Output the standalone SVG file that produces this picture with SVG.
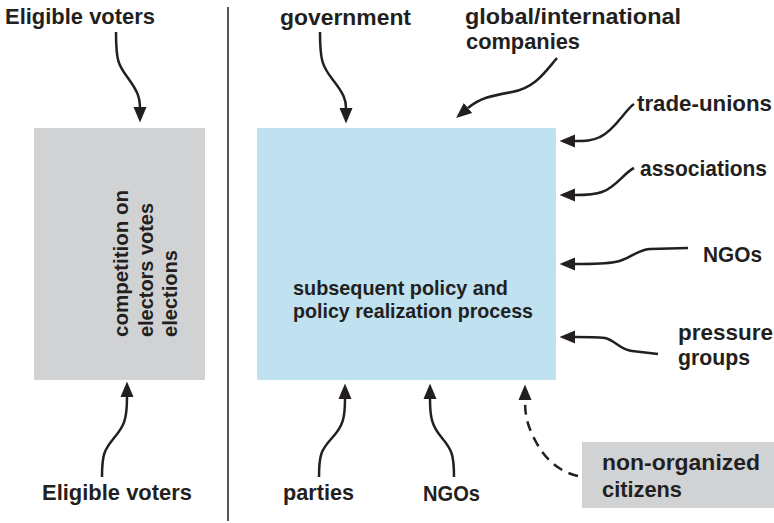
<svg xmlns="http://www.w3.org/2000/svg" width="774" height="523" viewBox="0 0 774 523">
<style>
text{font-family:"Liberation Sans",Arial,sans-serif;font-weight:bold;fill:#231f20;font-size:22px}
.inner{font-size:20.5px}
.conn{fill:none;stroke:#231f20;stroke-width:2.5;stroke-linecap:butt}
.dash{stroke-dasharray:10 7}
</style>
<defs>
<marker id="ah" markerUnits="userSpaceOnUse" markerWidth="18" markerHeight="16" viewBox="0 -8 18 16" refX="0" refY="0" orient="auto">
<path d="M0,-6.5 L15.5,0 L0,6.5 z" fill="#231f20"/>
</marker>
</defs>
<rect width="774" height="523" fill="#ffffff"/>
<line x1="228" y1="7" x2="228" y2="521" stroke="#231f20" stroke-width="1.5"/>
<g id="competition">
<rect x="34" y="128" width="171" height="252" fill="#d1d2d4"/>
<g transform="translate(0,337) rotate(-90)">
<text class="inner" x="0" y="128" textLength="147" lengthAdjust="spacingAndGlyphs">competition on</text>
<text class="inner" x="0" y="153" textLength="134" lengthAdjust="spacingAndGlyphs">electors votes</text>
<text class="inner" x="0" y="177" textLength="87" lengthAdjust="spacingAndGlyphs">elections</text>
</g>
</g>
<g id="policy">
<rect x="257" y="128" width="299" height="252" fill="#bfe1f0"/>
<text class="inner" x="293" y="295" textLength="215" lengthAdjust="spacingAndGlyphs">subsequent policy and</text>
<text class="inner" x="293" y="318" textLength="240" lengthAdjust="spacingAndGlyphs">policy realization process</text>
</g>
<g id="voters-top"><text x="5" y="24" textLength="150" lengthAdjust="spacingAndGlyphs">Eligible voters</text></g>
<g id="voters-bottom"><text x="42" y="500" textLength="150" lengthAdjust="spacingAndGlyphs">Eligible voters</text></g>
<g id="government"><text x="280" y="25" textLength="131" lengthAdjust="spacingAndGlyphs">government</text></g>
<g id="companies">
<text x="465" y="24" textLength="216" lengthAdjust="spacingAndGlyphs">global/international</text>
<text x="466" y="49" textLength="114" lengthAdjust="spacingAndGlyphs">companies</text>
</g>
<g id="trade-unions"><text x="637" y="111" textLength="135" lengthAdjust="spacingAndGlyphs">trade-unions</text></g>
<g id="associations"><text x="640" y="176" textLength="127" lengthAdjust="spacingAndGlyphs">associations</text></g>
<g id="ngos-right"><text x="703" y="262" textLength="59" lengthAdjust="spacingAndGlyphs">NGOs</text></g>
<g id="pressure">
<text x="678" y="340" textLength="95" lengthAdjust="spacingAndGlyphs">pressure</text>
<text x="678" y="365" textLength="72" lengthAdjust="spacingAndGlyphs">groups</text>
</g>
<g id="parties"><text x="283" y="500" textLength="71" lengthAdjust="spacingAndGlyphs">parties</text></g>
<g id="ngos-bottom"><text x="423" y="501" textLength="57" lengthAdjust="spacingAndGlyphs">NGOs</text></g>
<g id="citizens">
<rect x="582" y="442" width="192" height="66" fill="#d1d2d4"/>
<text x="602" y="470" textLength="158" lengthAdjust="spacingAndGlyphs">non-organized</text>
<text x="602" y="497" textLength="80" lengthAdjust="spacingAndGlyphs">citizens</text>
</g>
<g id="connectors">
<path class="conn" marker-end="url(#ah)" d="M116,32 C116,60 118,65 128,78 C138,92 140,98 140,107"/>
<path class="conn" marker-end="url(#ah)" d="M102,477 C102,455 104,450 114,438 C124,426 127,420 127,397"/>
<path class="conn" marker-end="url(#ah)" d="M320,32 C320,60 322,66 333,80 C344,94 346,100 346,108"/>
<path class="conn" marker-end="url(#ah)" d="M557,58 C545,72 535,88 512,92 C490,96 480,98 468,108"/>
<path class="conn" marker-end="url(#ah)" d="M634,104 C625,110 615,130 600,137 C592,141 585,141 575,141"/>
<path class="conn" marker-end="url(#ah)" d="M634,168 C625,172 615,188 602,192 C594,195 585,195 575,195"/>
<path class="conn" marker-end="url(#ah)" d="M688,248 L650,249 C635,250 630,260 615,262 C605,264 590,264 575,264"/>
<path class="conn" marker-end="url(#ah)" d="M658,354 L632,351 C620,350 615,340 605,338 C595,337 585,337 575,337"/>
<path class="conn" marker-end="url(#ah)" d="M319,477 C319,455 321,450 332,438 C343,426 345,418 345,399"/>
<path class="conn" marker-end="url(#ah)" d="M454,477 C454,455 452,450 442,438 C432,426 430,418 430,399"/>
<path class="conn dash" marker-end="url(#ah)" d="M578,476 C560,472 545,460 535,440 C527,425 525,415 525,400"/>
</g>
</svg>
